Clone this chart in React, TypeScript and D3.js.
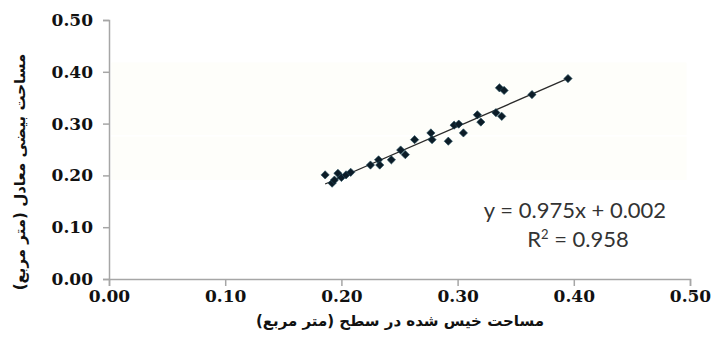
import React, { useEffect, useRef } from 'react';
import * as d3 from 'd3';

// measured wetted area (x) vs equivalent ellipse area (y), m²
const WETTED_AREA = [
    0.186, 0.192, 0.194, 0.197, 0.200, 0.204, 0.208, 0.225, 0.232, 0.233,
    0.243, 0.251, 0.255, 0.263, 0.277, 0.278, 0.292, 0.297, 0.301, 0.305,
    0.317, 0.320, 0.333, 0.338, 0.336, 0.340, 0.364, 0.395,
];
const ELLIPSE_AREA = [
    0.201, 0.185, 0.191, 0.204, 0.196, 0.201, 0.206, 0.220, 0.230, 0.220,
    0.230, 0.249, 0.240, 0.269, 0.282, 0.269, 0.266, 0.297, 0.299, 0.282,
    0.317, 0.303, 0.321, 0.314, 0.369, 0.364, 0.356, 0.387,
];

const TICKS = [0, 0.1, 0.2, 0.3, 0.4, 0.5];
const SLOPE = 0.975;
const INTERCEPT = 0.002;
const EQUATION = 'y = 0.975x + 0.002';
const R2_VALUE = '0.958';

const X_TITLE = 'مساحت خیس شده در سطح (متر مربع)';
const Y_TITLE = 'مساحت بیضی معادل (متر مربع)';

const WIDTH = 717;
const HEIGHT = 358;
const AXIS_COLOR = '#a6a6a6';

function styleAxis(axisGroup)
{
    axisGroup.select('.domain').attr('stroke', AXIS_COLOR).attr('stroke-width', 1.5);
    axisGroup.selectAll('.tick line').attr('stroke', AXIS_COLOR).attr('stroke-width', 1.5);
    axisGroup.selectAll('.tick text')
        .attr('fill', '#111')
        .attr('font-family', 'DejaVu Serif')
        .attr('font-weight', 'bold')
        .attr('font-size', 17);
}

function drawChart(svgEl)
{
    const svg = d3.select(svgEl);
    svg.selectAll('*').remove();

    const x = d3.scaleLinear().domain([0, 0.5]).range([109, 690]);
    const y = d3.scaleLinear().domain([0, 0.5]).range([279, 20]);

    svg.append('rect').attr('width', WIDTH).attr('height', HEIGHT).attr('fill', '#ffffff');

    // faint scan bands behind the plot
    const bands = [[0.418, 0.278], [0.275, 0.191]];
    svg.selectAll('rect.band')
        .data(bands)
        .enter()
        .append('rect')
        .attr('class', 'band')
        .attr('x', x(0.002))
        .attr('width', x(0.497) - x(0.002))
        .attr('y', (d) => y(d[0]))
        .attr('height', (d) => y(d[1]) - y(d[0]))
        .attr('fill', '#fefefa');

    const yAxis = svg.append('g')
        .attr('transform', `translate(${ x(0) },0)`)
        .call(d3.axisLeft(y).tickValues(TICKS).tickFormat(d3.format('.2f')).tickSize(6).tickPadding(10));
    styleAxis(yAxis);

    const xAxis = svg.append('g')
        .attr('transform', `translate(0,${ y(0) })`)
        .call(d3.axisBottom(x).tickValues(TICKS).tickFormat(d3.format('.2f')).tickSize(7).tickPadding(4));
    styleAxis(xAxis);

    // trend line
    const xExtent = d3.extent(WETTED_AREA);
    const line = d3.line()
        .x((d) => x(d))
        .y((d) => y(SLOPE * d + INTERCEPT));
    svg.append('path')
        .datum(xExtent)
        .attr('fill', 'none')
        .attr('stroke', '#2a2a2a')
        .attr('stroke-width', 1.3)
        .attr('d', line);

    // points as diamonds
    const diamond = d3.symbol().type(d3.symbolSquare).size(34);
    svg.append('g')
        .selectAll('path')
        .data(WETTED_AREA.map((v, i) => [v, ELLIPSE_AREA[i]]))
        .enter()
        .append('path')
        .attr('d', diamond)
        .attr('transform', (d) => `translate(${ x(d[0]) },${ y(d[1]) }) rotate(45)`)
        .attr('fill', '#0c1c27')
        .attr('stroke', '#1f4a5a')
        .attr('stroke-width', 0.6);

    // equation
    const eq = svg.append('g')
        .attr('font-family', 'Lato')
        .attr('font-size', 22)
        .attr('fill', '#333')
        .attr('text-anchor', 'middle');
    eq.append('text').attr('x', 575).attr('y', 218).text(EQUATION);
    const r2 = eq.append('text').attr('x', 578).attr('y', 247);
    r2.append('tspan').text('R');
    r2.append('tspan').attr('font-size', 13).attr('dy', -8).text('2');
    r2.append('tspan').attr('dy', 8).text(` = ${ R2_VALUE }`);

    // axis titles
    svg.append('text')
        .attr('x', 400)
        .attr('y', 326)
        .attr('text-anchor', 'middle')
        .attr('direction', 'rtl')
        .attr('font-family', 'DejaVu Sans')
        .attr('font-weight', 'bold')
        .attr('font-size', 15)
        .attr('fill', '#111')
        .text(X_TITLE);

    svg.append('text')
        .attr('transform', `translate(25,172) rotate(-90)`)
        .attr('text-anchor', 'middle')
        .attr('direction', 'rtl')
        .attr('font-family', 'DejaVu Sans')
        .attr('font-weight', 'bold')
        .attr('font-size', 15)
        .attr('fill', '#111')
        .text(Y_TITLE);
}

export default function App()
{
    const svgRef = useRef(null);

    useEffect(() =>
    {
        drawChart(svgRef.current);
    }, []);

    return (
        <svg
            ref={ svgRef }
            width={ WIDTH }
            height={ HEIGHT }
            style={ { position: 'absolute', left: 0, top: 0 } }
        />
    );
}
